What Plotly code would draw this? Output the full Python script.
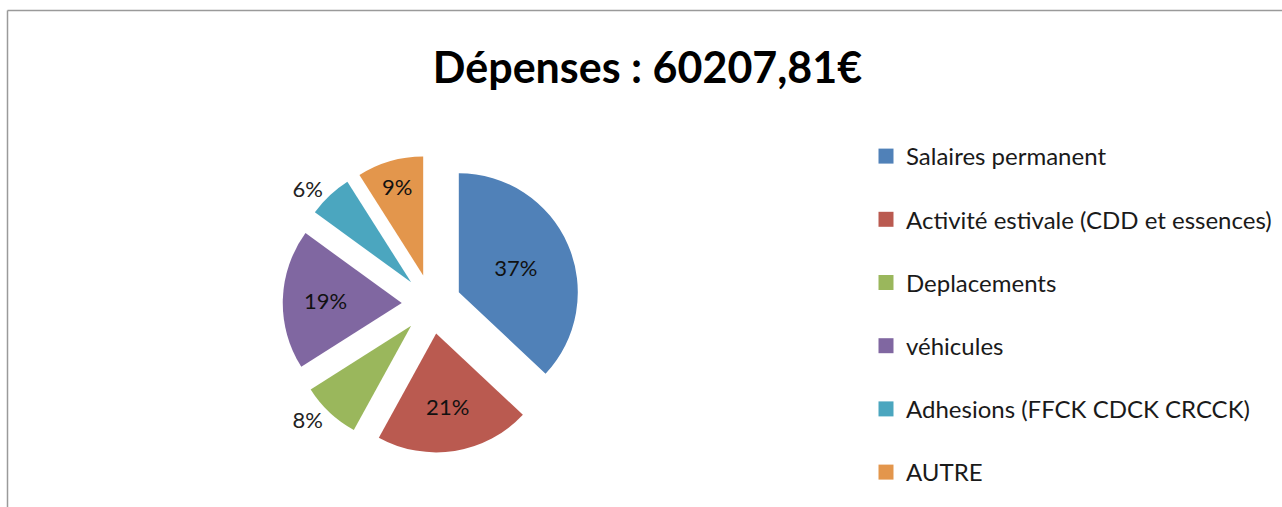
import plotly.graph_objects as go

title_text = "Dépenses : 60207,81€"
categories = ["Salaires permanent", "Activité estivale (CDD et essences)", "Deplacements",
              "véhicules", "Adhesions (FFCK CDCK CRCCK)", "AUTRE"]
values = [37, 21, 8, 19, 6, 9]
colors = ["#5081B8", "#BA5A50", "#9AB75C", "#8067A1", "#4BA6BF", "#E3964C"]
text_positions = ["inside", "inside", "outside", "inside", "outside", "inside"]

W, H = 1282, 507
FONT = "Lato"

fig = go.Figure()
fig.add_trace(go.Pie(
    labels=categories, values=values, sort=False, direction="clockwise", rotation=0,
    marker=dict(colors=colors, line=dict(width=0)),
    pull=[0.25] * len(values),
    texttemplate="%{percent:.0%}", textposition=text_positions,
    insidetextorientation="horizontal",
    insidetextfont=dict(family=FONT, size=22, color="#111111"),
    outsidetextfont=dict(family=FONT, size=22, color="#222222"),
    domain=dict(x=[282.75 / W, 580.25 / W], y=[(H - 453) / H, (H - 155) / H]),
    showlegend=False, hoverinfo="label+percent",
))

# legend entries (one group each so they can be spaced like the original)
for i, (name, c) in enumerate(zip(categories, colors)):
    fig.add_trace(go.Scatter(
        x=[None], y=[None], mode="markers", name=name,
        marker=dict(symbol="square", size=15, color=c),
        legendgroup=f"g{i}", showlegend=True,
    ))

fig.update_layout(
    width=W, height=H, autosize=False,
    margin=dict(l=0, r=0, t=0, b=0, autoexpand=False),
    paper_bgcolor="white", plot_bgcolor="white",
    title=dict(text=f"<b>{title_text}</b>", x=647.5 / W, xanchor="center",
               y=1 - 68 / H, yanchor="middle", yref="container",
               font=dict(family=FONT, size=43, color="#000000")),
    xaxis=dict(visible=False), yaxis=dict(visible=False),
    legend=dict(x=866 / W, xanchor="left", y=1 - 134 / H, yanchor="top",
                traceorder="grouped", tracegroupgap=29, itemwidth=30,
                font=dict(family=FONT, size=24, color="#1a1a1a"),
                bgcolor="rgba(0,0,0,0)"),
    shapes=[
        dict(type="line", xref="paper", yref="paper", x0=7.5 / W, x1=1, y0=1 - 10.5 / H, y1=1 - 10.5 / H,
             line=dict(color="#9a9a9a", width=1.5)),
        dict(type="line", xref="paper", yref="paper", x0=7.5 / W, x1=7.5 / W, y0=0, y1=1 - 10.5 / H,
             line=dict(color="#9a9a9a", width=1.5)),
    ],
)

fig.write_html(
    "out.html",
    config={"displayModeBar": False, "responsive": False},
    post_script="document.body.style.margin='0';document.body.style.overflow='hidden';",
)
